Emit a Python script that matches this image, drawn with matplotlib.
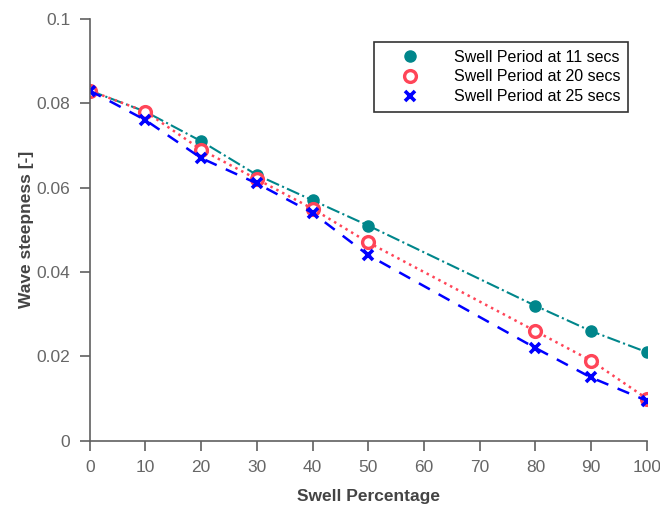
import matplotlib
matplotlib.use("Agg")
import matplotlib.pyplot as plt

# swell percentage and wave steepness for each swell period
swell_pct = [0, 10, 20, 30, 40, 50, 80, 90, 100]
steep_11 = [0.083, 0.078, 0.071, 0.063, 0.057, 0.051, 0.032, 0.026, 0.021]
steep_20 = [0.083, 0.078, 0.069, 0.062, 0.055, 0.047, 0.026, 0.019, 0.010]
steep_25 = [0.083, 0.076, 0.067, 0.061, 0.054, 0.044, 0.022, 0.015, 0.0095]

plt.rcParams['font.family'] = ['Liberation Sans', 'DejaVu Sans']

fig = plt.figure(figsize=(6.6, 5.09), dpi=100)
ax = fig.add_axes([0.136, 0.134, 0.844, 0.829])

ax.plot(swell_pct, steep_11, color='#00868B', linestyle='-.', linewidth=1.5,
        marker='o', markersize=8, label='Swell Period at 11 secs')
ax.plot(swell_pct, steep_20, color='#FF4558', linestyle=':', linewidth=1.8,
        marker='o', markersize=8.5, markerfacecolor='white', markeredgewidth=2.4,
        label='Swell Period at 20 secs')
ax.plot(swell_pct, steep_25, color='#0000FF', linestyle='--', linewidth=1.8,
        dashes=(5, 4), marker='x', markersize=6.5, markeredgewidth=2.6,
        label='Swell Period at 25 secs')

ax.set_xlim(0, 100)
ax.set_ylim(0, 0.1)
ax.set_xticks(range(0, 101, 10))
ax.set_yticks([0, 0.02, 0.04, 0.06, 0.08, 0.1])
ax.set_yticklabels(['0', '0.02', '0.04', '0.06', '0.08', '0.1'])

for side in ['top', 'right']:
    ax.spines[side].set_visible(False)
for side in ['left', 'bottom']:
    ax.spines[side].set_color('#606060')
    ax.spines[side].set_linewidth(1.2)
ax.tick_params(direction='out', length=7, width=1.2, color='#606060',
               labelcolor='#666666', labelsize=12.5, pad=7)

ax.set_xlabel('Swell Percentage', fontsize=12.5, fontweight='bold',
              color='#444444', labelpad=10)
ax.set_ylabel('Wave steepness [-]', fontsize=12.5, fontweight='bold',
              color='#444444', labelpad=1.5)

leg = ax.legend(loc='upper right', bbox_to_anchor=(0.967, 0.946), fontsize=11.5,
                fancybox=False, framealpha=1, edgecolor='#333333',
                handlelength=3.5, handletextpad=1.0, borderpad=0.5,
                labelspacing=0.3, borderaxespad=0)
leg.get_frame().set_linewidth(1.2)
# markers only in the legend
for line in leg.get_lines():
    line.set_linestyle('none')

fig.savefig('out.png', dpi=100)
